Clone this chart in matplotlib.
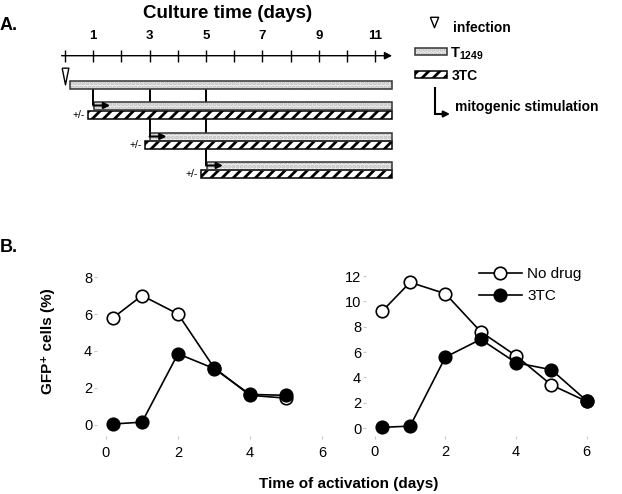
import matplotlib
matplotlib.use('Agg')
import matplotlib.pyplot as plt
from matplotlib.patches import Rectangle

plt.rcParams['font.family'] = ['Liberation Sans', 'DejaVu Sans']
plt.rcParams['mathtext.fontset'] = 'custom'
plt.rcParams['mathtext.rm'] = 'Liberation Sans'
plt.rcParams['mathtext.bf'] = 'Liberation Sans:bold'
plt.rcParams['hatch.linewidth'] = 2.0

# 图A：培养时间表
day_ticks = list(range(0, 12))
day_labels = [1, 3, 5, 7, 9, 11]
infection_day = 0
bar_start = 0.18
bar_end = 11.6
stim_days = [1, 3, 5]

# 图B：GFP+ 细胞比例
days_left = [0.2, 1, 2, 3, 4, 5]
nodrug_left = [5.8, 7.0, 6.0, 3.1, 1.6, 1.45]
tc_left = [0.05, 0.15, 3.85, 3.05, 1.65, 1.6]
days_right = [0.2, 1, 2, 3, 4, 5, 6]
nodrug_right = [9.2, 11.5, 10.6, 7.6, 5.7, 3.4, 2.1]
tc_right = [0.05, 0.15, 5.6, 7.0, 5.15, 4.6, 2.15]

W, H = 622, 494
fig = plt.figure(figsize=(W / 100, H / 100), dpi=100)


def rect(x0, y0, x1, y1):
    return [x0 / W, 1 - y1 / H, (x1 - x0) / W, (y1 - y0) / H]


def stipple(ax, x, y, w, h):
    ax.add_patch(Rectangle((x, y), w, h, facecolor='#efefef', edgecolor='#bdbdbd',
                           hatch='....', lw=0, zorder=3))
    ax.add_patch(Rectangle((x, y), w, h, fill=False, edgecolor='#333333', lw=1.1, zorder=4))


def striped(ax, x, y, w, h):
    ax.add_patch(Rectangle((x, y), w, h, facecolor='white', edgecolor='black',
                           hatch='///', lw=1.1, zorder=3))


tri = [(-0.4, 1), (0.4, 1), (0, -1), (-0.4, 1)]
tri_small = [(-0.8, 1), (0.8, 1), (0, -1), (-0.8, 1)]

# ---- 图A，x轴单位为天，y轴为像素行
px_per_day = 28.2
ax_a = fig.add_axes([0, 0, 1, 1])
ax_a.set_xlim(-65 / px_per_day, (W - 65) / px_per_day)
ax_a.set_ylim(H, 0)
ax_a.axis('off')

ax_a.annotate('', xy=(bar_end, 55.7), xytext=(-0.12, 55.7),
              arrowprops=dict(arrowstyle='-|>', lw=1.0, color='black',
                              mutation_scale=11, shrinkA=0, shrinkB=0))
ax_a.vlines(day_ticks, 50, 62, color='black', lw=1.0)
for d in day_labels:
    ax_a.text(d, 36, str(d), ha='center', va='center', fontsize=9.5, fontweight='bold')

stipple(ax_a, bar_start, 81, bar_end - bar_start, 8)
ax_a.plot([infection_day], [76.5], marker=tri, ms=12, mfc='white', mec='black',
          mew=1.0, ls='none', zorder=5)

stip_top = [102, 133, 162]
hatch_top = [111, 141, 170]
for d, ys, yh in zip(stim_days, stip_top, hatch_top):
    ay = ys + 3.5
    ax_a.vlines(d, 89, ay, color='black', lw=1.4, zorder=2)
    stipple(ax_a, d + 0.03, ys, bar_end - d - 0.03, 8)
    striped(ax_a, d - 0.17, yh, bar_end - d + 0.17, 8)
    ax_a.vlines(d, ys, ay, color='black', lw=1.4, zorder=5)
    ax_a.annotate('', xy=(d + 0.6, ay), xytext=(d, ay), zorder=6,
                  arrowprops=dict(arrowstyle='-|>', lw=1.5, color='black',
                                  mutation_scale=9, shrinkA=0, shrinkB=0))
    ax_a.text(d - 0.29, yh + 3.5, '+/-', ha='right', va='center', fontsize=7.5)

# ---- 图A图例与标题，像素坐标
ax_p = fig.add_axes([0, 0, 1, 1])
ax_p.set_xlim(0, W)
ax_p.set_ylim(H, 0)
ax_p.axis('off')
ax_p.patch.set_alpha(0)

ax_p.text(228, 13, 'Culture time (days)', ha='center', va='center', fontsize=13.5,
          fontweight='bold')
ax_p.text(0, 25, 'A.', ha='left', va='center', fontsize=13, fontweight='bold')
ax_p.text(0, 247, 'B.', ha='left', va='center', fontsize=13, fontweight='bold')

ax_p.plot([434], [22], marker=tri_small, ms=7.5, mfc='white', mec='black', mew=1.0,
          ls='none')
ax_p.text(453, 28, 'infection', ha='left', va='center', fontsize=10, fontweight='bold')
stipple(ax_p, 415, 48, 32, 7)
ax_p.text(450, 54, r'$\mathbf{T_{1249}}$', ha='left', va='center', fontsize=10.5)
striped(ax_p, 415, 71, 32, 7)
ax_p.text(452, 76, '3TC', ha='left', va='center', fontsize=10, fontweight='bold')
ax_p.plot([435, 435], [88, 114], color='black', lw=1.5)
ax_p.annotate('', xy=(450, 114), xytext=(435, 114),
              arrowprops=dict(arrowstyle='-|>', lw=1.5, color='black',
                              mutation_scale=9, shrinkA=0, shrinkB=0))
ax_p.text(455, 107, 'mitogenic stimulation', ha='left', va='center', fontsize=10,
          fontweight='bold')

# ---- 图B
mk = dict(marker='o', ms=9, mew=1.2, color='black', lw=1.2)

ax1 = fig.add_axes(rect(97, 271.5, 331, 436))
ax1.plot(days_left, nodrug_left, mfc='white', mec='black', **mk)
ax1.plot(days_left, tc_left, mfc='black', mec='black', **mk)
ax1.set_xlim(-0.25, 6.25)
ax1.set_ylim(-0.6, 8.3)
ax1.set_yticks([0, 2, 4, 6, 8])

ax2 = fig.add_axes(rect(366, 272.2, 595.5, 435.6))
ax2.plot(days_right, nodrug_right, mfc='white', mec='black', label='No drug', **mk)
ax2.plot(days_right, tc_right, mfc='black', mec='black', label='3TC', **mk)
ax2.set_xlim(-0.25, 6.25)
ax2.set_ylim(-0.6, 12.3)
ax2.set_yticks([0, 2, 4, 6, 8, 10, 12])
ax2.legend(loc='upper left', bbox_to_anchor=(0.492, 1.03), frameon=False, fontsize=11,
           handlelength=2.8, handletextpad=0.35, labelspacing=0.5, borderpad=0,
           borderaxespad=0)

for ax in (ax1, ax2):
    ax.set_xticks([0, 2, 4, 6])
    for s in ax.spines.values():
        s.set_visible(False)
    ax.patch.set_alpha(0)
    ax.tick_params(axis='both', length=2, width=0.8, color='#c8c8c8', labelsize=10.5)
    ax.tick_params(axis='x', pad=5)
    ax.tick_params(axis='y', pad=1.5)

fig.text(48 / W, 1 - 341 / H, 'GFP⁺ cells (%)', rotation=90, ha='center', va='center',
         fontsize=11, fontweight='bold')
fig.text(349 / W, 1 - 484 / H, 'Time of activation (days)', ha='center', va='center',
         fontsize=11, fontweight='bold')

fig.savefig('out.png', dpi=100)
